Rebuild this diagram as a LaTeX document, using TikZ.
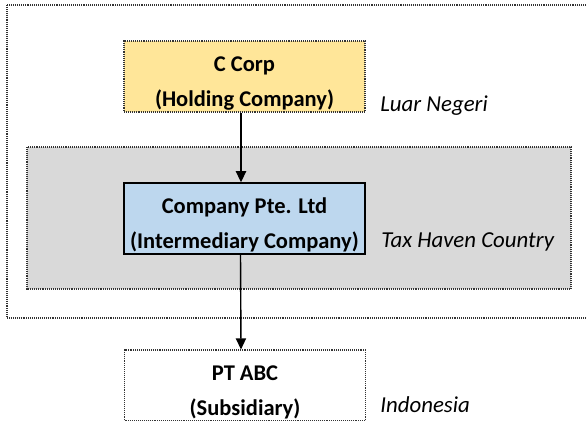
\documentclass[tikz,border=0pt]{standalone}
\usepackage{fontspec}
\setmainfont{Carlito}
\usetikzlibrary{arrows.meta,positioning}
\definecolor{holding}{HTML}{FFE699}
\definecolor{intermed}{HTML}{BDD7EE}
\definecolor{haven}{HTML}{D9D9D9}
\definecolor{edge}{HTML}{333333}

\begin{document}
\begin{tikzpicture}[x=0.02cm,y=0.02cm,
  dots/.style={draw=edge,line width=0.65pt,dash pattern=on 0.55pt off 0.55pt},
  entity/.style={minimum width=4.82cm,minimum height=1.42cm,inner sep=0pt,align=center,
    font=\bfseries\fontsize{12.8}{20.4}\selectfont,text height=36.1pt,text depth=1.5pt},
  place/.style={font=\itshape\fontsize{13}{15}\selectfont,anchor=base west,inner sep=0pt},
  link/.style={-{Triangle[length=6.3pt,width=5.8pt]},line width=0.8pt}]
  \useasboundingbox (0,0) rectangle (587,420);
  \clip (0,0) rectangle (587,420);

  % Regions
  \draw[dots] (7,415) rectangle (600,102);
  \draw[dots,fill=haven] (27,273) rectangle (571,131);

  % Companies
  \node[entity,dots,fill=holding] (ccorp) at (244.5,343.5) {C Corp\\(Holding Company)};
  \node[entity,draw=black,line width=0.8pt,fill=intermed] (pteltd) at (244.5,201.5) {Company Pte. Ltd\\(Intermediary Company)};
  \node[entity,dots] (ptabc) at (245,34.5) {PT ABC\\(Subsidiary)};

  % Countries
  \node[place] (luar) at (380,309) {Luar Negeri};
  \node[place] (taxhaven) at (381,173) {Tax Haven Country};
  \node[place] (indo) at (380,8) {Indonesia};

  % Ownership
  \draw[link] ([xshift=-0.07cm]ccorp.south) -- ([xshift=-0.07cm]pteltd.north);
  \draw[link] ([xshift=-0.08cm]pteltd.south) -- ([xshift=-0.08cm]ptabc.north);
\end{tikzpicture}
\end{document}
